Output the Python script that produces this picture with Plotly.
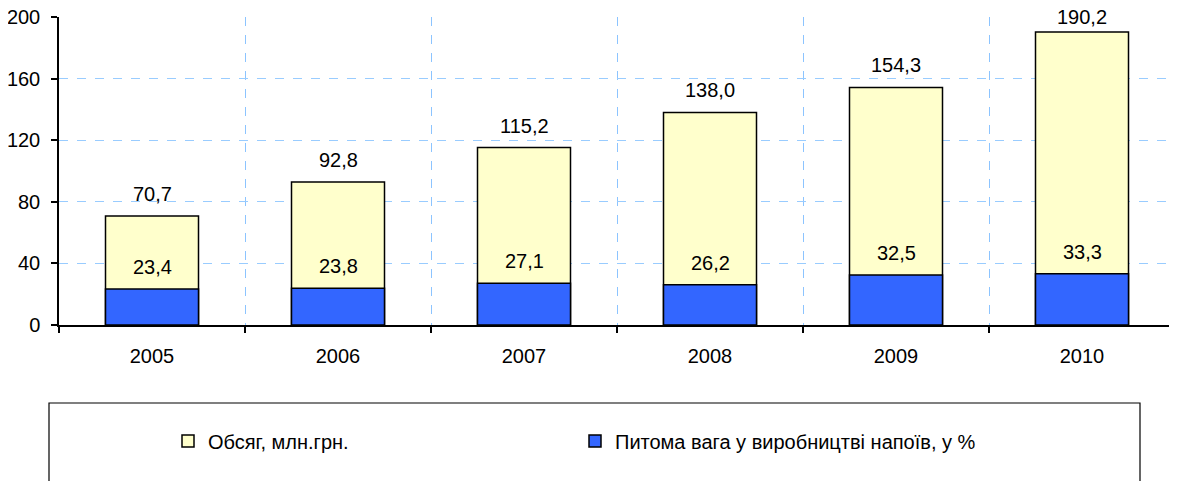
import plotly.graph_objects as go

years = ["2005", "2006", "2007", "2008", "2009", "2010"]
volume = [70.7, 92.8, 115.2, 138.0, 154.3, 190.2]
share = [23.4, 23.8, 27.1, 26.2, 32.5, 33.3]
name_volume = "Обсяг, млн.грн."
name_share = "Питома вага у виробництві напоїв, у %"

FONT = "Arial, Liberation Sans, sans-serif"
FS = 20
Y_MAX = 200
PX_PER_UNIT = 308 / Y_MAX

fig = go.Figure()
fig.add_trace(go.Bar(x=years, y=volume, name=name_volume,
                     marker=dict(color="#FFFFCC", line=dict(color="black", width=1.5))))
fig.add_trace(go.Bar(x=years, y=share, name=name_share,
                     marker=dict(color="#3366FF", line=dict(color="black", width=1.5))))

fmt = lambda v: f"{v:.1f}".replace(".", ",")
for series in (volume, share):
    for i, v in enumerate(series):
        # keep label inside the plot area's top edge, like the original chart
        shift = min(22, (Y_MAX - v) * PX_PER_UNIT)
        fig.add_annotation(x=i, y=v, text=fmt(v), showarrow=False, yanchor="middle",
                           yshift=shift, font=dict(size=FS, color="black", family=FONT))

# legend frame
fig.add_shape(type="rect", xref="paper", yref="paper",
              x0=(49 - 59) / 1116, x1=(1140 - 59) / 1116,
              y0=(325 - 495) / 308, y1=(325 - 403) / 308,
              line=dict(color="black", width=1.2), fillcolor="rgba(0,0,0,0)")

fig.update_layout(
    width=1177, height=481,
    margin=dict(l=51, r=10, t=9, b=164),
    barmode="overlay", bargap=0.5,
    plot_bgcolor="white", paper_bgcolor="white",
    font=dict(family=FONT, size=FS, color="black"),
    showlegend=True,
    legend=dict(orientation="h", x=(168 - 59) / 1116, xanchor="left",
                y=(325 - 441) / 308, yanchor="middle",
                entrywidth=362, traceorder="normal",
                font=dict(size=20, family=FONT), bgcolor="rgba(0,0,0,0)"),
    xaxis=dict(type="category", tickson="boundaries", showgrid=True,
               range=[-0.5, 5.5], automargin=False,
               gridcolor="#8CC4FF", griddash="dash", gridwidth=1,
               showline=True, linecolor="black", linewidth=1.5,
               ticks="outside", ticklen=6, tickcolor="black", tickwidth=1.5,
               ticklabelstandoff=12, zeroline=False),
    yaxis=dict(range=[0, Y_MAX], dtick=40, showgrid=True, automargin=False,
               ticklabeloverflow="allow",
               gridcolor="#99CCFF", griddash="dash", gridwidth=1,
               showline=True, linecolor="black", linewidth=1.5,
               ticks="outside", ticklen=6, tickcolor="black", tickwidth=1.5,
               ticklabelstandoff=7, zeroline=False),
)

fig.write_html("out.html")
